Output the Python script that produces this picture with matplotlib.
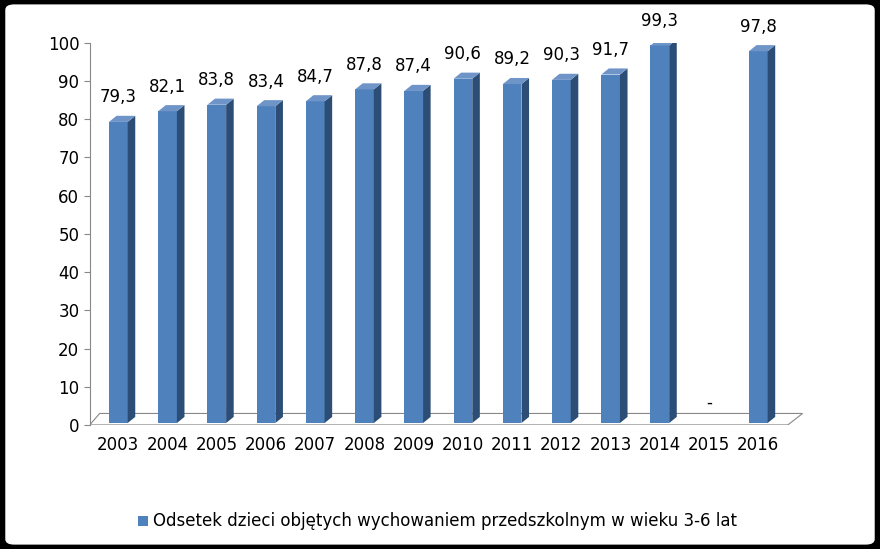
import matplotlib
matplotlib.use("Agg")
import matplotlib.pyplot as plt
from matplotlib.patches import Polygon, FancyBboxPatch, Rectangle

years = ["2003","2004","2005","2006","2007","2008","2009","2010","2011","2012","2013","2014","2015","2016"]
values = [79.3,82.1,83.8,83.4,84.7,87.8,87.4,90.6,89.2,90.3,91.7,99.3,None,97.8]
labels = ["79,3","82,1","83,8","83,4","84,7","87,8","87,4","90,6","89,2","90,3","91,7","99,3","-","97,8"]
legend_label = "Odsetek dzieci objętych wychowaniem przedszkolnym w wieku 3-6 lat"

fig = plt.figure(figsize=(8.8, 5.49), dpi=100, facecolor="black")
bg = FancyBboxPatch((0.006, 0.008), 0.988, 0.984, boxstyle="round,pad=0,rounding_size=0.01",
                    transform=fig.transFigure, facecolor="white", edgecolor="none", zorder=-10)
fig.patches.append(bg)
ax = fig.add_axes([0.102, 0.226, 0.838, 0.696])
ax.set_facecolor("none")
ax.set_xlim(-0.58, 14.4)
ax.set_ylim(0, 100)
dx, dy = 0.154, 1.6
w = 0.19
front, side, top = "#4F81BD", "#2C4D75", "#6F95C8"

# floor
ax.add_patch(Polygon([(-0.58, 0), (13.6, 0), (13.6 + 0.3, 3.0), (-0.58 + 0.2, 3.0)],
                     closed=True, facecolor="white", edgecolor="#888888", lw=0.8, zorder=1))
for i, (v, lab) in enumerate(zip(values, labels)):
    if v is not None:
        x0, x1 = i - w, i + w
        ax.add_patch(Rectangle((x0, 0.5), 2 * w, v - 0.5, facecolor=front, edgecolor="none", zorder=3))
        ax.add_patch(Polygon([(x1, 0.5), (x1 + dx, 0.5 + dy), (x1 + dx, v + dy), (x1, v)],
                             facecolor=side, edgecolor="none", zorder=3))
        ax.add_patch(Polygon([(x0, v), (x1, v), (x1 + dx, v + dy), (x0 + dx, v + dy)],
                             facecolor=top, edgecolor="none", zorder=3))
        ax.text(i, v + dy + 2.5, lab, ha="center", va="bottom", fontsize=12, family="DejaVu Sans")
    else:
        ax.text(i, 3.5, lab, ha="center", va="bottom", fontsize=12)

ax.set_yticks(range(0, 101, 10))
ax.set_yticklabels([str(t) for t in range(0, 101, 10)], fontsize=12)
ax.set_xticks(range(len(years)))
ax.set_xticklabels(years, fontsize=12)
ax.tick_params(axis="x", length=0, pad=8)
ax.tick_params(axis="y", length=4, direction="out", color="#888888")
for s in ["top", "right", "bottom"]:
    ax.spines[s].set_visible(False)
ax.spines["left"].set_color("#888888")

fig.patches.append(Rectangle((0.157, 0.042), 0.011, 0.018, transform=fig.transFigure,
                             facecolor=front, edgecolor="none"))
fig.text(0.174, 0.051, legend_label, fontsize=12, va="center", ha="left")
fig.savefig("out.png", dpi=100, facecolor="black")
